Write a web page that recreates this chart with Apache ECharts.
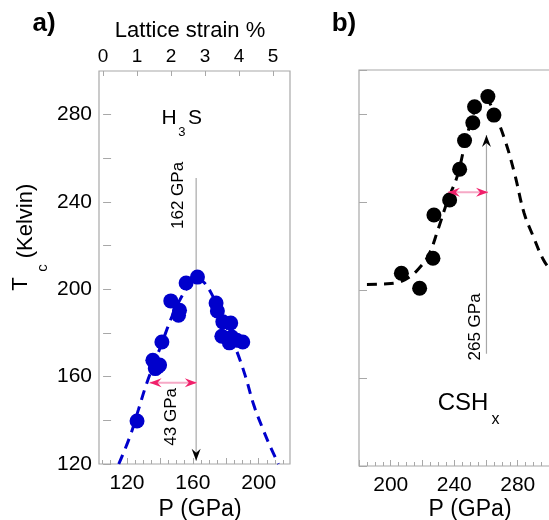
<!DOCTYPE html>
<html>
<head>
<meta charset="utf-8">
<script src="https://cdn.jsdelivr.net/npm/echarts@6/dist/echarts.min.js"></script>
<style>
  html, body { margin: 0; background: #fff; }
  #chart { width: 549px; height: 520px; }
</style>
</head>
<body>
<div id="chart"></div>
<script>
// a) H3S : measured points and dashed guide curve
const h3sP  = [126.1, 135.7, 138.5, 137.2, 139.8, 141.2, 146.6, 151.9, 151.3, 155.9, 162.8, 174.1, 174.9, 178.2, 183.0, 177.6, 183.6, 182.2, 186.7, 190.3]
const h3sTc = [139.7, 167.5, 164.5, 163.7, 165.3, 175.9, 194.7, 190.4, 188.1, 202.9, 205.6, 193.7, 190.1, 185.1, 184.6, 178.5, 178.2, 175.5, 176.7, 175.9]
const h3sFitP  = [115, 122, 127, 132, 137, 142, 147, 152, 157, 162, 167, 172, 177, 182, 187, 192, 197, 202, 207, 212]
const h3sFitTc = [120, 133, 145, 157, 167, 177, 187, 195, 201, 205, 203, 197, 189, 180, 171, 160, 147, 137, 128, 120]

// b) CSHx
const cshP  = [261.2, 265.0, 252.8, 251.7, 246.5, 243.4, 237.1, 227.2, 226.6, 206.7, 218.2]
const cshTc = [287.9, 279.5, 283.3, 276.0, 267.9, 254.9, 240.9, 234.1, 214.4, 207.6, 200.8]
const cshFitP  = [185, 195, 205, 212, 218, 224, 230, 236, 242, 248, 254, 260, 266, 272, 278, 284, 290, 296, 302, 308]
const cshFitTc = [202.5, 202.7, 203.5, 206, 210, 216, 228, 241, 252, 270, 283, 286, 279, 268, 253, 235, 224, 214, 208, 204]

// axes
const strainTicks = [0, 1, 2, 3, 4, 5]
const pLabelsA = [120, 160, 200]
const pMajorA = [120, 140, 160, 180, 200]
const pMinorA = [105, 110, 115, 125, 130, 135, 145, 150, 155, 165, 170, 175, 185, 190, 195, 205, 210, 215]
const pLabelsB = [200, 240, 280]

// annotations: onset pressure, half width
const onsetA = { p: 162, from: 251, to: 121.5 }
const widthA = { from: 133.7, to: 162.4, tc: 157.2 }
const onsetB = { p: 260.3, from: 171, to: 270.5 }
const widthB = { from: 236, to: 261.3, tc: 244.4 }

const FONT = 'Liberation Sans'
const GRAY = '#a8a8a8'
const BLUE = '#0000cc'
const PINK = '#f0206a'

const chart = echarts.init(document.getElementById('chart'), null, { renderer: 'canvas' })

const zip = (xs, ys) => xs.map((x, i) => [x, ys[i]])

function textItems(xi, yi, items) {
  return {
    type: 'scatter', xAxisIndex: xi, yAxisIndex: yi, symbolSize: 0, silent: true, z: 6,
    itemStyle: { color: 'rgba(0,0,0,0)', opacity: 1 },
    data: items.map(t => ({
      value: [t.p, t.tc],
      label: { show: true, position: 'inside', formatter: t.text, rotate: t.rot || 0,
        fontSize: t.size, fontFamily: FONT, color: '#000', opacity: 1, textBorderWidth: 0 }
    }))
  }
}

function onsetSeries(xi, yi, o, up) {
  return [
    { type: 'line', xAxisIndex: xi, yAxisIndex: yi, symbol: 'none', silent: true, z: 1,
      lineStyle: { color: GRAY, width: 1.2 },
      data: [[o.p, o.from], [o.p, o.to]] },
    { type: 'scatter', xAxisIndex: xi, yAxisIndex: yi, silent: true, z: 4,
      symbol: up ? 'path://M0,12L5,0L10,12L5,8Z' : 'path://M0,0L5,12L10,0L5,4Z',
      symbolSize: [9, 12], symbolOffset: [0, up ? 6 : -6],
      itemStyle: { color: '#000', opacity: 1 },
      data: [[o.p, o.to]] }
  ]
}

function widthSeries(xi, yi, w) {
  return [
    { type: 'line', xAxisIndex: xi, yAxisIndex: yi, symbol: 'none', silent: true, z: 3,
      lineStyle: { color: '#f6a9c6', width: 2 },
      data: [[w.from, w.tc], [w.to, w.tc]] },
    { type: 'scatter', xAxisIndex: xi, yAxisIndex: yi, silent: true, z: 4,
      symbol: 'path://M0,5L12,0L8,5L12,10Z', symbolSize: [12, 9], symbolOffset: [6, 0],
      itemStyle: { color: PINK, opacity: 1 }, data: [[w.from, w.tc]] },
    { type: 'scatter', xAxisIndex: xi, yAxisIndex: yi, silent: true, z: 4,
      symbol: 'path://M12,5L0,0L4,5L0,10Z', symbolSize: [12, 9], symbolOffset: [-6, 0],
      itemStyle: { color: PINK, opacity: 1 }, data: [[w.to, w.tc]] }
  ]
}

const tickStyle = { show: true, inside: true, length: 8, lineStyle: { color: GRAY } }
const labelStyle = { color: '#000', fontSize: 21, fontFamily: FONT }

const option = {
  animation: false,
  backgroundColor: '#fff',
  grid: [
    { left: 99, top: 71, width: 191, height: 393, show: true, borderColor: GRAY, borderWidth: 1.2,
      outerBoundsMode: 'none' },
    { left: 359, top: 70, width: 200, height: 396, show: true, borderColor: GRAY, borderWidth: 1.2,
      outerBoundsMode: 'none' }
  ],
  xAxis: [
    { // 0: P, panel a
      type: 'value', gridIndex: 0, position: 'bottom', min: 103, max: 219,
      axisLine: { show: false }, splitLine: { show: false },
      axisTick: { ...tickStyle, length: 6, customValues: pMajorA },
      axisLabel: { ...labelStyle, margin: 9, customValues: pLabelsA }
    },
    { // 1: lattice strain, panel a
      type: 'value', gridIndex: 0, position: 'top', min: -0.12, max: 5.5,
      axisLine: { show: false }, splitLine: { show: false },
      axisTick: { ...tickStyle, length: 5, customValues: strainTicks },
      axisLabel: { ...labelStyle, fontSize: 19, margin: 5, customValues: strainTicks }
    },
    { // 2: P, panel b
      type: 'value', gridIndex: 1, position: 'bottom', min: 180, max: 306, interval: 20,
      axisLine: { show: false }, splitLine: { show: false },
      axisTick: { ...tickStyle, length: 6 },
      minorTick: { show: true, splitNumber: 4, length: 4, lineStyle: { color: GRAY } },
      axisLabel: { ...labelStyle, margin: 9, customValues: pLabelsB }
    },
    { // 3: minor ticks, panel a
      type: 'value', gridIndex: 0, position: 'bottom', min: 103, max: 219,
      axisLine: { show: false }, splitLine: { show: false },
      axisTick: { ...tickStyle, length: 4, customValues: pMinorA },
      axisLabel: { show: false }
    }
  ],
  yAxis: [
    {
      type: 'value', gridIndex: 0, min: 120, max: 300, interval: 20,
      axisLine: { show: false }, splitLine: { show: false },
      axisTick: tickStyle,
      axisLabel: { ...labelStyle, margin: 7, showMaxLabel: false,
        formatter: v => (v % 40 === 0 && v < 300) ? String(v) : '' }
    },
    {
      type: 'value', gridIndex: 1, min: 120, max: 300, interval: 40,
      axisLine: { show: false }, splitLine: { show: false },
      axisTick: tickStyle,
      axisLabel: { show: false }
    }
  ],
  series: [
    ...onsetSeries(0, 0, onsetA, false),
    ...widthSeries(0, 0, widthA),
    {
      type: 'line', xAxisIndex: 0, yAxisIndex: 0, smooth: 0.4, showSymbol: false, silent: true, z: 2,
      lineStyle: { color: BLUE, width: 3, type: [10, 7] },
      data: zip(h3sFitP, h3sFitTc)
    },
    {
      type: 'scatter', xAxisIndex: 0, yAxisIndex: 0, symbolSize: 15, z: 3,
      itemStyle: { color: BLUE, opacity: 1 },
      data: zip(h3sP, h3sTc)
    },
    textItems(0, 0, [
      { text: 'H', p: 145.5, tc: 278.2, size: 21 },
      { text: '3', p: 153.4, tc: 271.8, size: 13 },
      { text: 'S', p: 161.3, tc: 278.2, size: 21 },
      { text: '162 GPa', p: 151, tc: 243, rot: 90, size: 17 },
      { text: '43 GPa', p: 146.7, tc: 141.6, rot: 90, size: 17 }
    ]),

    ...onsetSeries(2, 1, onsetB, true),
    ...widthSeries(2, 1, widthB),
    {
      type: 'line', xAxisIndex: 2, yAxisIndex: 1, smooth: 0.4, showSymbol: false, silent: true, z: 2,
      lineStyle: { color: '#000', width: 3, type: [10, 7] },
      data: zip(cshFitP, cshFitTc)
    },
    {
      type: 'scatter', xAxisIndex: 2, yAxisIndex: 1, symbolSize: 15, z: 3,
      itemStyle: { color: '#000', opacity: 1 },
      data: zip(cshP, cshTc)
    },
    textItems(2, 1, [
      { text: '265 GPa', p: 253, tc: 183.2, rot: 90, size: 17 },
      { text: 'CSH', p: 245.5, tc: 148.6, size: 24 },
      { text: 'x', p: 266, tc: 141, size: 16 }
    ])
  ],
  graphic: [
    { type: 'text', x: 44, y: 24, style: { text: 'a)', font: 'bold 26px "Liberation Sans"', fill: '#000', align: 'center', verticalAlign: 'middle' } },
    { type: 'text', x: 344, y: 24, style: { text: 'b)', font: 'bold 26px "Liberation Sans"', fill: '#000', align: 'center', verticalAlign: 'middle' } },
    { type: 'text', x: 190, y: 31, style: { text: 'Lattice strain %', font: '22px "Liberation Sans"', fill: '#000', align: 'center', verticalAlign: 'middle' } },
    { type: 'text', x: 200, y: 510, style: { text: 'P (GPa)', font: '23px "Liberation Sans"', fill: '#000', align: 'center', verticalAlign: 'middle' } },
    { type: 'text', x: 470, y: 510, style: { text: 'P (GPa)', font: '23px "Liberation Sans"', fill: '#000', align: 'center', verticalAlign: 'middle' } },
    { type: 'text', x: 21, y: 284, rotation: Math.PI / 2, style: { text: 'T', font: '22px "Liberation Sans"', fill: '#000', align: 'center', verticalAlign: 'middle' } },
    { type: 'text', x: 43, y: 268, rotation: Math.PI / 2, style: { text: 'c', font: '15px "Liberation Sans"', fill: '#000', align: 'center', verticalAlign: 'middle' } },
    { type: 'text', x: 26, y: 221, rotation: Math.PI / 2, style: { text: '(Kelvin)', font: '22px "Liberation Sans"', fill: '#000', align: 'center', verticalAlign: 'middle' } }
  ]
}

chart.setOption(option)
</script>
</body>
</html>
